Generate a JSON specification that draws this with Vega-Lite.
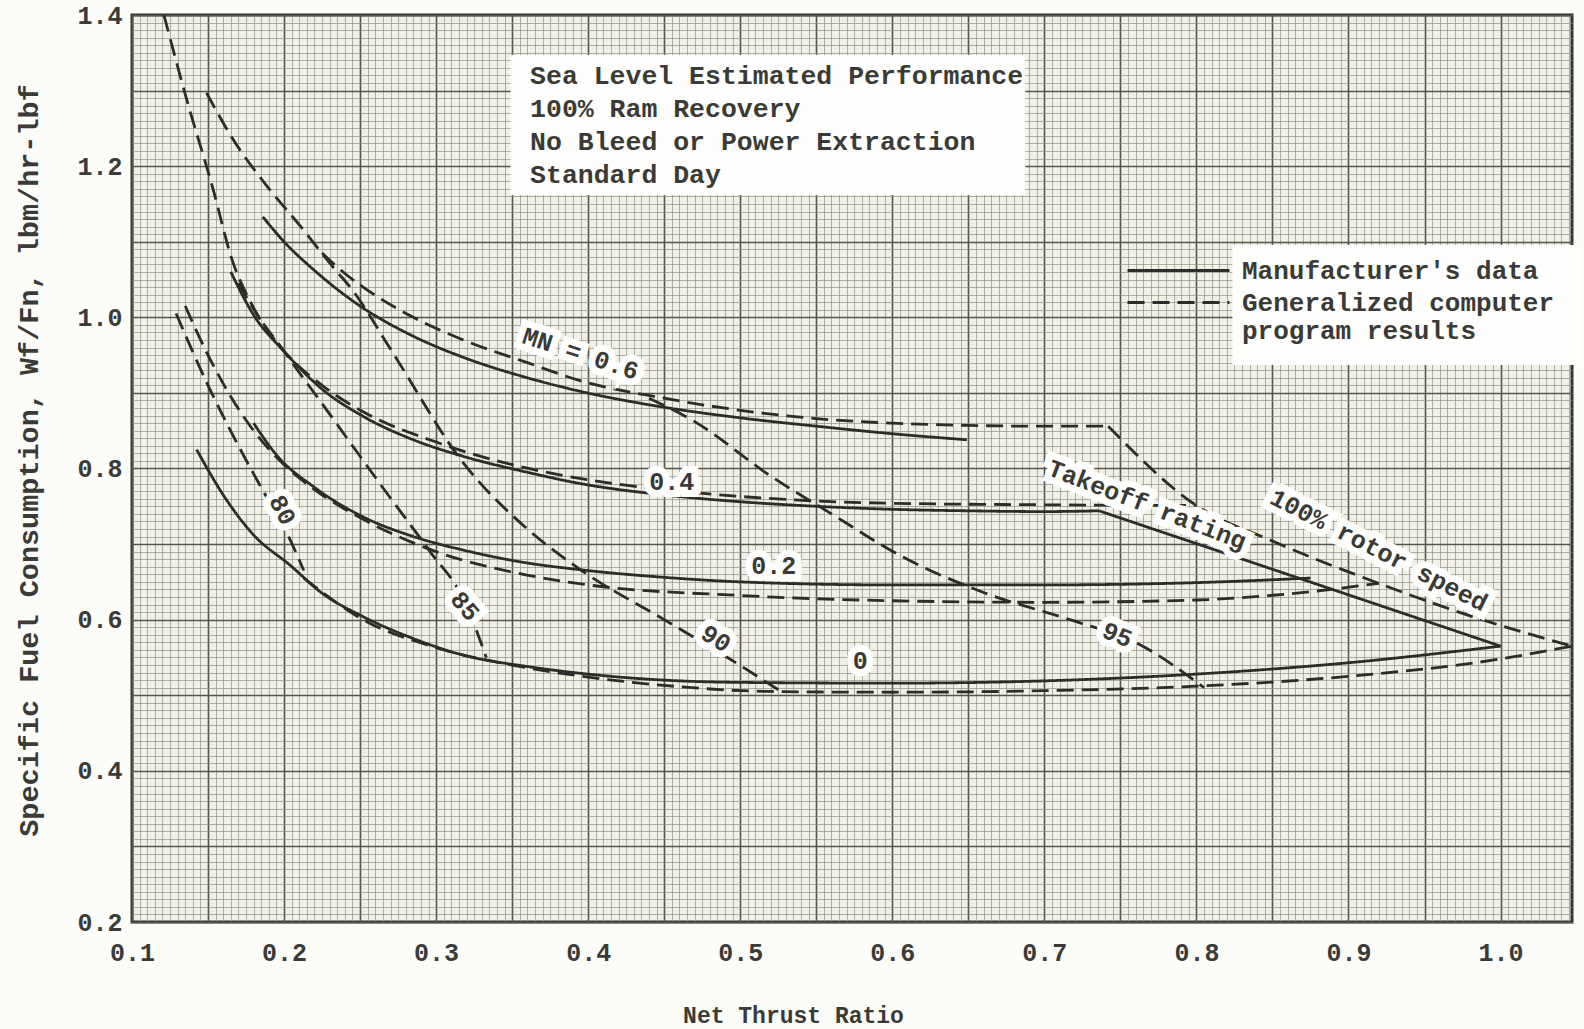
{
  "$schema": "https://vega.github.io/schema/vega-lite/v6.json",
  "width": 1440,
  "height": 907,
  "autosize": {"type": "none"},
  "padding": {"left": 132, "top": 15, "right": 12, "bottom": 107},
  "background": "#fcfcf9",
  "config": {
    "view": {"stroke": "#35352f", "strokeWidth": 3, "fill": "#f1f0e7"},
    "font": "Liberation Mono"
  },
  "datasets": {
    "curves": [
      {"s":"MN06_s","t":"Manufacturer's data","x":0.186,"y":1.133},{"s":"MN06_s","t":"Manufacturer's data","x":0.2,"y":1.1},{"s":"MN06_s","t":"Manufacturer's data","x":0.22,"y":1.062},{"s":"MN06_s","t":"Manufacturer's data","x":0.25,"y":1.015},{"s":"MN06_s","t":"Manufacturer's data","x":0.285,"y":0.975},{"s":"MN06_s","t":"Manufacturer's data","x":0.318,"y":0.947},{"s":"MN06_s","t":"Manufacturer's data","x":0.36,"y":0.92},{"s":"MN06_s","t":"Manufacturer's data","x":0.395,"y":0.902},{"s":"MN06_s","t":"Manufacturer's data","x":0.45,"y":0.881},{"s":"MN06_s","t":"Manufacturer's data","x":0.5,"y":0.867},{"s":"MN06_s","t":"Manufacturer's data","x":0.55,"y":0.856},{"s":"MN06_s","t":"Manufacturer's data","x":0.6,"y":0.846},{"s":"MN06_s","t":"Manufacturer's data","x":0.649,"y":0.838},
      {"s":"MN06_d","t":"Generalized computer program results","x":0.225,"y":1.085},{"s":"MN06_d","t":"Generalized computer program results","x":0.24,"y":1.058},{"s":"MN06_d","t":"Generalized computer program results","x":0.252,"y":1.04},{"s":"MN06_d","t":"Generalized computer program results","x":0.285,"y":1.0},{"s":"MN06_d","t":"Generalized computer program results","x":0.318,"y":0.97},{"s":"MN06_d","t":"Generalized computer program results","x":0.36,"y":0.94},{"s":"MN06_d","t":"Generalized computer program results","x":0.395,"y":0.916},{"s":"MN06_d","t":"Generalized computer program results","x":0.45,"y":0.893},{"s":"MN06_d","t":"Generalized computer program results","x":0.5,"y":0.877},{"s":"MN06_d","t":"Generalized computer program results","x":0.55,"y":0.866},{"s":"MN06_d","t":"Generalized computer program results","x":0.6,"y":0.86},{"s":"MN06_d","t":"Generalized computer program results","x":0.65,"y":0.857},{"s":"MN06_d","t":"Generalized computer program results","x":0.7,"y":0.856},{"s":"MN06_d","t":"Generalized computer program results","x":0.742,"y":0.856},
      {"s":"MN04_s","t":"Manufacturer's data","x":0.165,"y":1.06},{"s":"MN04_s","t":"Manufacturer's data","x":0.18,"y":1.003},{"s":"MN04_s","t":"Manufacturer's data","x":0.2,"y":0.955},{"s":"MN04_s","t":"Manufacturer's data","x":0.225,"y":0.905},{"s":"MN04_s","t":"Manufacturer's data","x":0.252,"y":0.869},{"s":"MN04_s","t":"Manufacturer's data","x":0.285,"y":0.838},{"s":"MN04_s","t":"Manufacturer's data","x":0.318,"y":0.816},{"s":"MN04_s","t":"Manufacturer's data","x":0.36,"y":0.795},{"s":"MN04_s","t":"Manufacturer's data","x":0.395,"y":0.78},{"s":"MN04_s","t":"Manufacturer's data","x":0.45,"y":0.765},{"s":"MN04_s","t":"Manufacturer's data","x":0.5,"y":0.756},{"s":"MN04_s","t":"Manufacturer's data","x":0.55,"y":0.75},{"s":"MN04_s","t":"Manufacturer's data","x":0.6,"y":0.746},{"s":"MN04_s","t":"Manufacturer's data","x":0.65,"y":0.744},{"s":"MN04_s","t":"Manufacturer's data","x":0.7,"y":0.743},{"s":"MN04_s","t":"Manufacturer's data","x":0.736,"y":0.744},
      {"s":"MN04_d","t":"Generalized computer program results","x":0.17,"y":1.045},{"s":"MN04_d","t":"Generalized computer program results","x":0.185,"y":0.995},{"s":"MN04_d","t":"Generalized computer program results","x":0.2,"y":0.955},{"s":"MN04_d","t":"Generalized computer program results","x":0.225,"y":0.91},{"s":"MN04_d","t":"Generalized computer program results","x":0.252,"y":0.875},{"s":"MN04_d","t":"Generalized computer program results","x":0.3,"y":0.835},{"s":"MN04_d","t":"Generalized computer program results","x":0.35,"y":0.805},{"s":"MN04_d","t":"Generalized computer program results","x":0.4,"y":0.785},{"s":"MN04_d","t":"Generalized computer program results","x":0.45,"y":0.772},{"s":"MN04_d","t":"Generalized computer program results","x":0.5,"y":0.763},{"s":"MN04_d","t":"Generalized computer program results","x":0.55,"y":0.757},{"s":"MN04_d","t":"Generalized computer program results","x":0.6,"y":0.754},{"s":"MN04_d","t":"Generalized computer program results","x":0.7,"y":0.752},{"s":"MN04_d","t":"Generalized computer program results","x":0.8,"y":0.751},
      {"s":"MN02_s","t":"Manufacturer's data","x":0.18,"y":0.86},{"s":"MN02_s","t":"Manufacturer's data","x":0.195,"y":0.818},{"s":"MN02_s","t":"Manufacturer's data","x":0.22,"y":0.775},{"s":"MN02_s","t":"Manufacturer's data","x":0.252,"y":0.736},{"s":"MN02_s","t":"Manufacturer's data","x":0.285,"y":0.71},{"s":"MN02_s","t":"Manufacturer's data","x":0.318,"y":0.692},{"s":"MN02_s","t":"Manufacturer's data","x":0.36,"y":0.675},{"s":"MN02_s","t":"Manufacturer's data","x":0.395,"y":0.666},{"s":"MN02_s","t":"Manufacturer's data","x":0.45,"y":0.656},{"s":"MN02_s","t":"Manufacturer's data","x":0.5,"y":0.65},{"s":"MN02_s","t":"Manufacturer's data","x":0.6,"y":0.646},{"s":"MN02_s","t":"Manufacturer's data","x":0.7,"y":0.646},{"s":"MN02_s","t":"Manufacturer's data","x":0.8,"y":0.649},{"s":"MN02_s","t":"Manufacturer's data","x":0.875,"y":0.655},
      {"s":"MN02_d","t":"Generalized computer program results","x":0.135,"y":1.015},{"s":"MN02_d","t":"Generalized computer program results","x":0.15,"y":0.95},{"s":"MN02_d","t":"Generalized computer program results","x":0.165,"y":0.895},{"s":"MN02_d","t":"Generalized computer program results","x":0.18,"y":0.85},{"s":"MN02_d","t":"Generalized computer program results","x":0.2,"y":0.805},{"s":"MN02_d","t":"Generalized computer program results","x":0.22,"y":0.772},{"s":"MN02_d","t":"Generalized computer program results","x":0.25,"y":0.735},{"s":"MN02_d","t":"Generalized computer program results","x":0.3,"y":0.69},{"s":"MN02_d","t":"Generalized computer program results","x":0.35,"y":0.663},{"s":"MN02_d","t":"Generalized computer program results","x":0.4,"y":0.646},{"s":"MN02_d","t":"Generalized computer program results","x":0.5,"y":0.632},{"s":"MN02_d","t":"Generalized computer program results","x":0.6,"y":0.625},{"s":"MN02_d","t":"Generalized computer program results","x":0.7,"y":0.623},{"s":"MN02_d","t":"Generalized computer program results","x":0.8,"y":0.626},{"s":"MN02_d","t":"Generalized computer program results","x":0.86,"y":0.634},{"s":"MN02_d","t":"Generalized computer program results","x":0.92,"y":0.648},
      {"s":"MN0_s","t":"Manufacturer's data","x":0.1425,"y":0.825},{"s":"MN0_s","t":"Manufacturer's data","x":0.16,"y":0.765},{"s":"MN0_s","t":"Manufacturer's data","x":0.18,"y":0.712},{"s":"MN0_s","t":"Manufacturer's data","x":0.204,"y":0.672},{"s":"MN0_s","t":"Manufacturer's data","x":0.225,"y":0.635},{"s":"MN0_s","t":"Manufacturer's data","x":0.252,"y":0.604},{"s":"MN0_s","t":"Manufacturer's data","x":0.285,"y":0.575},{"s":"MN0_s","t":"Manufacturer's data","x":0.318,"y":0.553},{"s":"MN0_s","t":"Manufacturer's data","x":0.36,"y":0.538},{"s":"MN0_s","t":"Manufacturer's data","x":0.395,"y":0.529},{"s":"MN0_s","t":"Manufacturer's data","x":0.45,"y":0.52},{"s":"MN0_s","t":"Manufacturer's data","x":0.5,"y":0.517},{"s":"MN0_s","t":"Manufacturer's data","x":0.6,"y":0.516},{"s":"MN0_s","t":"Manufacturer's data","x":0.7,"y":0.519},{"s":"MN0_s","t":"Manufacturer's data","x":0.8,"y":0.528},{"s":"MN0_s","t":"Manufacturer's data","x":0.9,"y":0.543},{"s":"MN0_s","t":"Manufacturer's data","x":1.0,"y":0.565},
      {"s":"MN0_d","t":"Generalized computer program results","x":0.213,"y":0.655},{"s":"MN0_d","t":"Generalized computer program results","x":0.252,"y":0.6},{"s":"MN0_d","t":"Generalized computer program results","x":0.3,"y":0.563},{"s":"MN0_d","t":"Generalized computer program results","x":0.35,"y":0.54},{"s":"MN0_d","t":"Generalized computer program results","x":0.4,"y":0.524},{"s":"MN0_d","t":"Generalized computer program results","x":0.45,"y":0.513},{"s":"MN0_d","t":"Generalized computer program results","x":0.52,"y":0.505},{"s":"MN0_d","t":"Generalized computer program results","x":0.6,"y":0.504},{"s":"MN0_d","t":"Generalized computer program results","x":0.7,"y":0.506},{"s":"MN0_d","t":"Generalized computer program results","x":0.8,"y":0.512},{"s":"MN0_d","t":"Generalized computer program results","x":0.9,"y":0.525},{"s":"MN0_d","t":"Generalized computer program results","x":1.0,"y":0.548},{"s":"MN0_d","t":"Generalized computer program results","x":1.047,"y":0.565},
      {"s":"N80","t":"Generalized computer program results","x":0.129,"y":1.005},{"s":"N80","t":"Generalized computer program results","x":0.15,"y":0.91},{"s":"N80","t":"Generalized computer program results","x":0.17,"y":0.83},{"s":"N80","t":"Generalized computer program results","x":0.19,"y":0.757},{"s":"N80","t":"Generalized computer program results","x":0.2,"y":0.722},{"s":"N80","t":"Generalized computer program results","x":0.213,"y":0.665},
      {"s":"N85","t":"Generalized computer program results","x":0.121,"y":1.4},{"s":"N85","t":"Generalized computer program results","x":0.136,"y":1.288},{"s":"N85","t":"Generalized computer program results","x":0.153,"y":1.172},{"s":"N85","t":"Generalized computer program results","x":0.166,"y":1.075},{"s":"N85","t":"Generalized computer program results","x":0.178,"y":1.02},{"s":"N85","t":"Generalized computer program results","x":0.2,"y":0.955},{"s":"N85","t":"Generalized computer program results","x":0.23,"y":0.872},{"s":"N85","t":"Generalized computer program results","x":0.263,"y":0.78},{"s":"N85","t":"Generalized computer program results","x":0.296,"y":0.69},{"s":"N85","t":"Generalized computer program results","x":0.318,"y":0.627},{"s":"N85","t":"Generalized computer program results","x":0.333,"y":0.55},
      {"s":"N90","t":"Generalized computer program results","x":0.149,"y":1.297},{"s":"N90","t":"Generalized computer program results","x":0.166,"y":1.237},{"s":"N90","t":"Generalized computer program results","x":0.189,"y":1.173},{"s":"N90","t":"Generalized computer program results","x":0.211,"y":1.12},{"s":"N90","t":"Generalized computer program results","x":0.232,"y":1.067},{"s":"N90","t":"Generalized computer program results","x":0.245,"y":1.036},{"s":"N90","t":"Generalized computer program results","x":0.27,"y":0.958},{"s":"N90","t":"Generalized computer program results","x":0.318,"y":0.807},{"s":"N90","t":"Generalized computer program results","x":0.36,"y":0.72},{"s":"N90","t":"Generalized computer program results","x":0.395,"y":0.666},{"s":"N90","t":"Generalized computer program results","x":0.45,"y":0.6},{"s":"N90","t":"Generalized computer program results","x":0.49,"y":0.552},{"s":"N90","t":"Generalized computer program results","x":0.526,"y":0.506},
      {"s":"N95","t":"Generalized computer program results","x":0.44,"y":0.893},{"s":"N95","t":"Generalized computer program results","x":0.47,"y":0.862},{"s":"N95","t":"Generalized computer program results","x":0.52,"y":0.79},{"s":"N95","t":"Generalized computer program results","x":0.56,"y":0.74},{"s":"N95","t":"Generalized computer program results","x":0.605,"y":0.685},{"s":"N95","t":"Generalized computer program results","x":0.66,"y":0.636},{"s":"N95","t":"Generalized computer program results","x":0.72,"y":0.598},{"s":"N95","t":"Generalized computer program results","x":0.76,"y":0.57},{"s":"N95","t":"Generalized computer program results","x":0.805,"y":0.51},
      {"s":"N100","t":"Generalized computer program results","x":0.742,"y":0.856},{"s":"N100","t":"Generalized computer program results","x":0.8,"y":0.751},{"s":"N100","t":"Generalized computer program results","x":0.85,"y":0.704},{"s":"N100","t":"Generalized computer program results","x":0.92,"y":0.648},{"s":"N100","t":"Generalized computer program results","x":0.98,"y":0.605},{"s":"N100","t":"Generalized computer program results","x":1.047,"y":0.565},
      {"s":"Takeoff","t":"Manufacturer's data","x":0.736,"y":0.744},{"s":"Takeoff","t":"Manufacturer's data","x":1.0,"y":0.565}
    ],
    "labels": [
      {"label":"80","x":0.199,"y":0.745},
      {"label":"85","x":0.319,"y":0.618},
      {"label":"90","x":0.484,"y":0.575},
      {"label":"95","x":0.748,"y":0.58},
      {"label":"0","x":0.579,"y":0.545},
      {"label":"0.2","x":0.522,"y":0.671},
      {"label":"0.4","x":0.455,"y":0.7825},
      {"label":"MN = 0.6","x":0.395,"y":0.952},
      {"label":"Takeoff rating","x":0.7676,"y":0.752},
      {"label":"100% rotor speed","x":0.92,"y":0.692}
    ]
  },
  "resolve": {"axis": {"x": "independent", "y": "independent"}},
  "layer": [
    {
      "data": {"name": "curves"},
      "mark": {"type": "point", "opacity": 0},
      "encoding": {
        "x": {"field": "x", "type": "quantitative", "scale": {"domain": [0.1, 1.047], "nice": false, "zero": false},
              "axis": {"orient": "bottom", "grid": true, "tickCount": 190, "labels": false, "ticks": false, "domain": false, "title": null, "gridColor": "#8c8c82", "gridWidth": 0.9, "gridOpacity": 0.75}},
        "y": {"field": "y", "type": "quantitative", "scale": {"domain": [0.2, 1.4], "nice": false, "zero": false},
              "axis": {"orient": "left", "grid": true, "tickCount": 120, "labels": false, "ticks": false, "domain": false, "title": null, "gridColor": "#8c8c82", "gridWidth": 0.9, "gridOpacity": 0.75}}
      }
    },
    {
      "data": {"name": "curves"},
      "mark": {"type": "point", "opacity": 0},
      "encoding": {
        "x": {"field": "x", "type": "quantitative",
              "axis": {"orient": "bottom", "grid": true, "tickCount": 19, "labels": false, "ticks": false, "domain": false, "title": null, "gridColor": "#55554e", "gridWidth": 1.6, "gridOpacity": 1}},
        "y": {"field": "y", "type": "quantitative",
              "axis": {"orient": "left", "grid": true, "tickCount": 12, "labels": false, "ticks": false, "domain": false, "title": null, "gridColor": "#55554e", "gridWidth": 1.6, "gridOpacity": 1}}
      }
    },
    {
      "data": {"values": [{}]},
      "mark": {"type": "rect", "fill": "#fefefc"},
      "encoding": {
        "x": {"datum": 0.349, "type": "quantitative", "axis": null},
        "x2": {"datum": 0.6875},
        "y": {"datum": 1.347, "type": "quantitative", "axis": null},
        "y2": {"datum": 1.162}
      }
    },
    {
      "data": {"values": [{}]},
      "mark": {"type": "rect", "fill": "#fefefc", "clip": false},
      "encoding": {
        "x": {"datum": 0.8237, "type": "quantitative", "axis": null},
        "x2": {"datum": 1.0513},
        "y": {"datum": 1.0958, "type": "quantitative", "axis": null},
        "y2": {"datum": 0.937}
      }
    },
    {
      "data": {"name": "curves"},
      "mark": {"type": "line", "color": "#2c2c28", "strokeWidth": 2.8, "strokeCap": "butt", "interpolate": "monotone"},
      "encoding": {
        "x": {"field": "x", "type": "quantitative",
              "axis": {"orient": "bottom", "grid": false, "values": [0.1,0.2,0.3,0.4,0.5,0.6,0.7,0.8,0.9,1.0], "format": ".1f", "ticks": false, "domain": false, "labelFlush": false,
                       "labelFont": "Liberation Mono", "labelFontWeight": "bold", "labelFontSize": 25, "labelColor": "#3a3a36", "labelPadding": 18,
                       "title": "Net Thrust Ratio", "titleFont": "Liberation Mono", "titleFontSize": 23, "titleFontWeight": "bold", "titleColor": "#3a3a36", "titleX": 661, "titleY": 93, "titleBaseline": "middle"}},
        "y": {"field": "y", "type": "quantitative",
              "axis": {"orient": "left", "grid": false, "values": [0.2,0.4,0.6,0.8,1.0,1.2,1.4], "format": ".1f", "ticks": false, "domain": false, "labelFlush": false,
                       "labelFont": "Liberation Mono", "labelFontWeight": "bold", "labelFontSize": 25, "labelColor": "#3a3a36", "labelPadding": 10,
                       "title": "Specific Fuel Consumption, Wf/Fn, lbm/hr-lbf", "titleFont": "Liberation Mono", "titleFontSize": 28.5, "titleFontWeight": "bold", "titleColor": "#3a3a36", "titleX": -104, "titleY": 445, "titleBaseline": "middle"}},
        "detail": {"field": "s", "type": "nominal"},
        "strokeDash": {"field": "t", "type": "nominal",
                       "scale": {"domain": ["Manufacturer's data", "Generalized computer program results"], "range": [[1, 0], [17, 8]]},
                       "legend": {"orient": "none", "legendX": 1032, "legendY": 241, "title": null, "symbolType": "M-4,0H4", "symbolSize": 650, "symbolStrokeWidth": 2.8, "symbolStrokeColor": "#2c2c28", "symbolFillColor": "transparent",
                                  "labelFont": "Liberation Mono", "labelFontWeight": "bold", "labelFontSize": 26, "labelColor": "#3a3a36", "labelOffset": 49, "labelLimit": 600, "labelBaseline": "middle", "rowPadding": 4, "padding": 0,
                                  "labelExpr": "indexof(datum.label, 'Generalized') >= 0 ? ['Generalized computer', 'program results'] : datum.label"}}
      }
    },
    {
      "data": {"values": [{}]},
      "mark": {"type": "text", "align": "left", "baseline": "top", "font": "Liberation Mono", "fontWeight": "bold", "fontSize": 26.5, "lineHeight": 33, "color": "#3a3a36",
               "text": ["Sea Level Estimated Performance", "100% Ram Recovery", "No Bleed or Power Extraction", "Standard Day"]},
      "encoding": {
        "x": {"datum": 0.3618, "type": "quantitative", "axis": null},
        "y": {"datum": 1.336, "type": "quantitative", "axis": null}
      }
    },
    {
      "data": {"name": "labels"},
      "mark": {"type": "text", "font": "Liberation Mono", "fontWeight": "bold", "fontSize": 25, "stroke": "#fefefc", "strokeWidth": 14, "strokeJoin": "miter", "fill": "#fefefc"},
      "encoding": {
        "x": {"field": "x", "type": "quantitative", "axis": null},
        "y": {"field": "y", "type": "quantitative", "axis": null},
        "text": {"field": "label"},
        "angle": {"field": "label", "type": "ordinal", "legend": null,
                  "scale": {"type": "ordinal", "domain": ["80","85","90","95","0","0.2","0.4","MN = 0.6","Takeoff rating","100% rotor speed"], "range": [62,50,32,22,0,0,0,18,21,27]}}
      }
    },
    {
      "data": {"name": "labels"},
      "mark": {"type": "text", "font": "Liberation Mono", "fontWeight": "bold", "fontSize": 25, "fill": "#3a3a36"},
      "encoding": {
        "x": {"field": "x", "type": "quantitative", "axis": null},
        "y": {"field": "y", "type": "quantitative", "axis": null},
        "text": {"field": "label"},
        "angle": {"field": "label", "type": "ordinal", "legend": null,
                  "scale": {"type": "ordinal", "domain": ["80","85","90","95","0","0.2","0.4","MN = 0.6","Takeoff rating","100% rotor speed"], "range": [62,50,32,22,0,0,0,18,21,27]}}
      }
    }
  ]
}
